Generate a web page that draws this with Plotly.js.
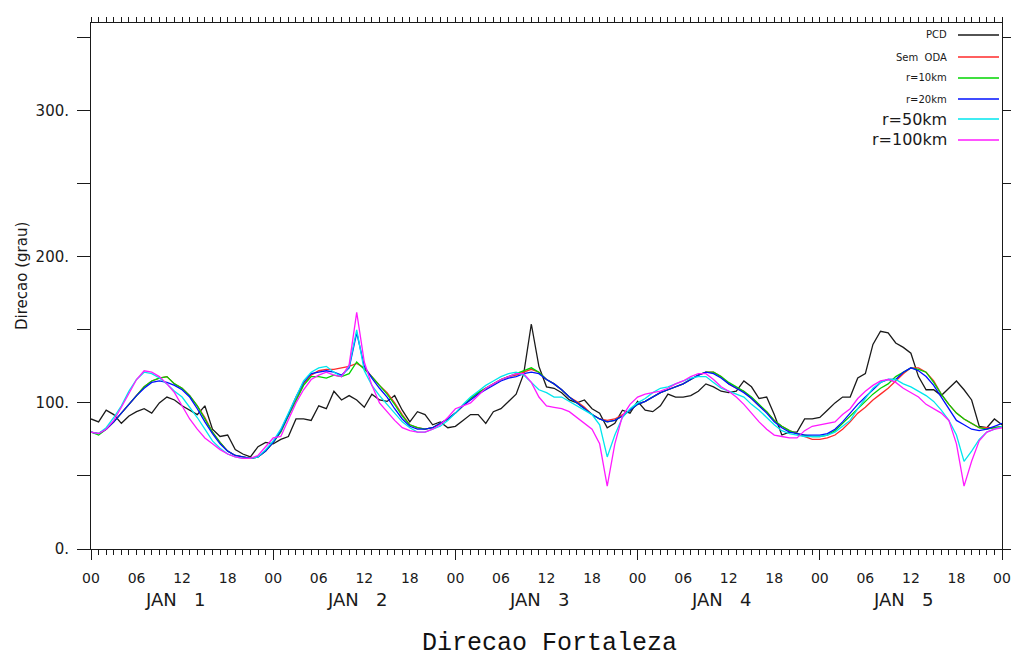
<!DOCTYPE html>
<html>
<head>
<meta charset="utf-8">
<script src="https://cdn.plot.ly/plotly-3.0.1.min.js"></script>
<style>
  html, body { margin: 0; padding: 0; background: #fff; }
  #chart { width: 1011px; height: 661px; }
</style>
</head>
<body>
<div id="chart"></div>
<script>
// Hourly wind direction (degrees) at Fortaleza, 00Z Jan 1 to 00Z Jan 6
const hourTickVals = [0, 6, 12, 18, 24, 30, 36, 42, 48, 54, 60, 66, 72, 78, 84, 90, 96, 102, 108, 114, 120];
const hourTickText = ['00','06','12','18','00','06','12','18','00','06','12','18','00','06','12','18','00','06','12','18','00'];
const dayTickVals = [0, 24, 48, 72, 96, 120];
const dayLabels = ['JAN   1', 'JAN   2', 'JAN   3', 'JAN   4', 'JAN   5'];
const dayLabelHours = [11, 35, 59, 83, 107];
const yTickVals = [0, 50, 100, 150, 200, 250, 300, 350];
const yTickText = ['0.', '', '100.', '', '200.', '', '300.', ''];

const seriesNames = ['PCD', 'Sem  ODA', 'r=10km', 'r=20km', 'r=50km', 'r=100km'];

// Observed station direction
const pcd = [
  89, 87, 95, 92, 86, 91, 94, 96, 93, 100,
  104, 102, 98, 95, 92, 98, 82, 77, 78, 68,
  65, 63, 70, 73, 72, 75, 77, 89, 89, 88,
  98, 96, 108, 102, 105, 102, 97, 106, 102, 101,
  105, 95, 87, 94, 92, 85, 87, 83, 84, 88,
  92, 92, 86, 94, 96, 101, 106, 120, 154, 125,
  111, 110, 107, 102, 100, 102, 96, 93, 83, 86,
  95, 93, 101, 95, 94, 98, 106, 104, 104, 105,
  108, 113, 111, 108, 107, 108, 115, 111, 103, 104,
  92, 78, 80, 80, 89, 89, 90, 95, 100, 104,
  104, 117, 120, 140, 149, 148, 141, 138, 134, 118,
  109, 109, 105, 110, 115, 109, 102, 84, 83, 89,
  85
];

// Run without data assimilation
const semOda = [
  80, 79, 82, 87, 93, 99, 105, 111, 115, 117,
  118, 113, 110, 105, 98, 90, 80, 73, 67, 64,
  63, 62, 63, 67, 73, 81, 92, 103, 113, 119,
  122, 123, 123, 124, 125, 127, 124, 118, 112, 107,
  100, 92, 85, 83, 82, 83, 86, 89, 93, 98,
  103, 107, 110, 113, 116, 118, 119, 121, 123, 121,
  116, 113, 109, 104, 101, 97, 92, 89, 88, 89,
  92, 95, 99, 101, 104, 107, 109, 111, 113, 116,
  119, 121, 121, 118, 113, 110, 108, 103, 98, 94,
  88, 84, 81, 79, 77, 75, 75, 76, 78, 82,
  87, 93, 97, 102, 106, 110, 115, 120, 124, 124,
  121, 115, 106, 99, 93, 89, 86, 83, 83, 83,
  84
];

const r10 = [
  80, 78, 82, 87, 93, 99, 105, 111, 115, 117,
  118, 113, 110, 105, 98, 89, 80, 73, 67, 64,
  63, 62, 63, 67, 73, 80, 91, 102, 112, 118,
  118, 117, 119, 118, 120, 128, 123, 118, 112, 106,
  99, 91, 85, 83, 82, 83, 86, 89, 93, 98,
  103, 107, 110, 113, 116, 118, 120, 122, 124, 121,
  116, 113, 109, 104, 100, 96, 92, 89, 87, 88,
  91, 95, 99, 101, 104, 107, 109, 111, 113, 116,
  119, 121, 121, 118, 114, 111, 108, 104, 99, 94,
  88, 84, 81, 79, 78, 77, 77, 78, 81, 86,
  91, 96, 101, 106, 110, 113, 118, 121, 124, 123,
  121, 114, 106, 99, 93, 89, 86, 83, 82, 83,
  84
];

const r20 = [
  80, 79, 82, 87, 93, 99, 105, 110, 114, 115,
  114, 112, 109, 104, 96, 87, 79, 72, 67, 64,
  63, 62, 63, 67, 73, 81, 92, 104, 114, 120,
  121, 122, 121, 119, 124, 148, 125, 117, 110, 104,
  96, 89, 84, 82, 82, 83, 86, 89, 93, 98,
  102, 106, 109, 112, 115, 117, 118, 120, 121, 120,
  116, 113, 109, 104, 100, 96, 92, 89, 87, 88,
  91, 95, 99, 101, 104, 107, 109, 111, 113, 116,
  119, 121, 120, 117, 113, 110, 107, 103, 98, 93,
  87, 83, 80, 79, 78, 78, 78, 79, 82, 87,
  93, 99, 104, 109, 114, 116, 116, 121, 124, 122,
  118, 112, 104, 96, 88, 85, 82, 81, 82, 84,
  86
];

const r50 = [
  80, 79, 83, 90, 98, 108, 116, 121, 120, 117,
  113, 108, 104, 97, 90, 82, 74, 69, 65, 63,
  62, 62, 63, 68, 74, 82, 93, 105, 115, 121,
  124, 125, 121, 118, 125, 150, 122, 112, 105, 99,
  93, 87, 83, 80, 80, 82, 84, 88, 93, 99,
  104, 108, 112, 115, 118, 120, 121, 119, 114, 109,
  107, 104, 104, 101, 98, 95, 92, 85, 63, 78,
  90, 96, 100, 103, 107, 110, 111, 113, 115, 117,
  118, 118, 114, 110, 108, 106, 104, 99, 95, 90,
  85, 81, 79, 78, 77, 77, 77, 78, 80, 84,
  88, 96, 103, 110, 114, 116, 116, 113, 111, 108,
  105, 101, 95, 88, 78, 60, 67, 75, 80, 82,
  84
];

const r100 = [
  80, 79, 82, 88, 97, 107, 116, 122, 121, 118,
  113, 107, 98, 89, 82, 76, 72, 68, 65, 63,
  62, 62, 64, 70, 76, 77, 88, 100, 109, 116,
  119, 121, 119, 118, 126, 162, 128, 112, 100, 94,
  88, 83, 81, 80, 80, 82, 85, 90, 96, 98,
  100, 105, 110, 113, 116, 118, 120, 120, 114, 104,
  98, 97, 96, 94, 90, 86, 82, 72, 43, 72,
  91, 99, 104, 106, 107, 108, 110, 113, 115, 118,
  120, 120, 116, 111, 108, 104, 99, 93, 87, 82,
  78, 77, 76, 76, 81, 84, 85, 86, 87, 92,
  96, 103, 108, 112, 115, 116, 114, 110, 107, 104,
  99, 96, 93, 88, 72, 43, 60, 74, 80, 82,
  83
];

const chartTitle = 'Direcao Fortaleza';

const hours = pcd.map((_, i) => i);
const seriesValues = [pcd, semOda, r10, r20, r50, r100];
const seriesColors = ['#1a1a1a', '#ff2a2a', '#00d400', '#0010ff', '#00e6ee', '#ff1aff'];
const legendFontSizes = [10, 10, 10, 10, 16, 16];

const ink = '#1a1a1a';

const traces = seriesValues.map((vals, i) => ({
  x: hours,
  y: vals,
  type: 'scatter',
  mode: 'lines',
  name: seriesNames[i],
  line: { color: seriesColors[i], width: 1.3 },
  hoverinfo: 'skip',
  showlegend: false
}));

// Legend: right-aligned labels with line samples to their right
const annotations = [];
const shapes = [];
const legendRowsPx = [35, 57, 78, 99, 119, 140];
const plotLeft = 91, plotWidth = 911, plotBottom = 549, plotHeight = 526;
const px2x = p => (p - plotLeft) / plotWidth;
const px2y = p => (plotBottom - p) / plotHeight;

seriesNames.forEach((name, i) => {
  const yy = px2y(legendRowsPx[i]);
  annotations.push({
    xref: 'paper', yref: 'paper', x: px2x(949), y: yy,
    xanchor: 'right', yanchor: 'middle', showarrow: false,
    text: name.replace(/ /g, '\u00a0'),
    font: { family: 'DejaVu Sans', size: legendFontSizes[i], color: ink }
  });
  shapes.push({
    type: 'line', xref: 'paper', yref: 'paper',
    x0: px2x(958), x1: px2x(999), y0: yy, y1: yy,
    line: { color: seriesColors[i], width: 1.3 }
  });
});

dayLabels.forEach((lab, i) => {
  annotations.push({
    xref: 'x', yref: 'paper', x: dayLabelHours[i], y: px2y(600),
    xanchor: 'center', yanchor: 'middle', showarrow: false,
    text: lab.replace(/ /g, '\u00a0'),
    font: { family: 'DejaVu Sans', size: 18, color: ink }
  });
});

// y-axis title
annotations.push({
  xref: 'paper', yref: 'paper', x: px2x(22), y: px2y(276),
  xanchor: 'center', yanchor: 'middle', showarrow: false,
  textangle: -90, text: 'Direcao (grau)',
  font: { family: 'DejaVu Sans', size: 15, color: ink }
});

// chart title below the axis
annotations.push({
  xref: 'paper', yref: 'paper', x: px2x(549), y: px2y(643),
  xanchor: 'center', yanchor: 'middle', showarrow: false,
  text: chartTitle,
  font: { family: 'Liberation Mono', size: 25, color: '#111' }
});

const hourlyTicks = hours.slice();

const layout = {
  width: 1011, height: 661,
  margin: { l: 91, r: 9, t: 23, b: 112 },
  paper_bgcolor: '#ffffff', plot_bgcolor: '#ffffff',
  showlegend: false,
  xaxis: {
    range: [0, 120], showgrid: false, zeroline: false,
    showline: true, linecolor: ink, linewidth: 1, mirror: true,
    tickmode: 'array', tickvals: hourTickVals, ticktext: hourTickText,
    ticks: 'outside', ticklen: 5, tickcolor: ink, tickwidth: 1,
    ticklabelstandoff: 11,
    tickfont: { family: 'DejaVu Sans', size: 14, color: ink }
  },
  // day boundaries: longer ticks below the axis
  xaxis2: {
    range: [0, 120], overlaying: 'x', side: 'bottom', anchor: 'y',
    showgrid: false, zeroline: false, showline: false,
    tickmode: 'array', tickvals: dayTickVals,
    ticks: 'outside', ticklen: 10, tickcolor: ink, tickwidth: 1,
    showticklabels: false
  },
  // hourly ticks, bottom and mirrored on top
  xaxis3: {
    range: [0, 120], overlaying: 'x', side: 'bottom', anchor: 'y',
    showgrid: false, zeroline: false, showline: true, linecolor: ink, linewidth: 1,
    mirror: 'ticks',
    tickmode: 'array', tickvals: hourlyTicks,
    ticks: 'outside', ticklen: 5, tickcolor: ink, tickwidth: 1,
    showticklabels: false
  },
  yaxis: {
    range: [0, 360], showgrid: false, zeroline: false,
    showline: true, linecolor: ink, linewidth: 1, mirror: 'ticks',
    tickmode: 'array', tickvals: yTickVals, ticktext: yTickText,
    ticks: 'outside', ticklen: 13, tickcolor: ink, tickwidth: 1,
    ticklabelstandoff: 5,
    tickfont: { family: 'DejaVu Sans', size: 15, color: ink }
  },
  annotations: annotations,
  shapes: shapes
};

// Empty traces so the overlaid tick axes are drawn
traces.push({ x: [0, 120], y: [null, null], xaxis: 'x2', yaxis: 'y', type: 'scatter', mode: 'lines', showlegend: false, hoverinfo: 'skip' });
traces.push({ x: [0, 120], y: [null, null], xaxis: 'x3', yaxis: 'y', type: 'scatter', mode: 'lines', showlegend: false, hoverinfo: 'skip' });

Plotly.newPlot('chart', traces, layout, { staticPlot: true, displayModeBar: false });
</script>
</body>
</html>
